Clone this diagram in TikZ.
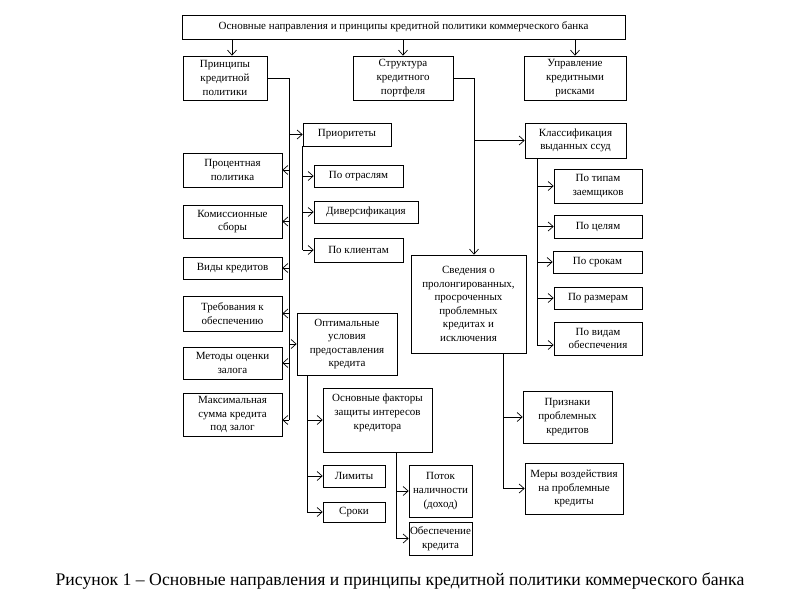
\documentclass[tikz,border=0pt]{standalone}
\usepackage{fontspec}
\setmainfont{Liberation Serif}
\usetikzlibrary{arrows.meta}
\begin{document}
\begin{tikzpicture}[x=1pt,y=-1pt,
  box/.style={draw, line width=0.7pt, align=center, inner sep=1pt, font=\fontsize{11}{13.6}\selectfont},
  ln/.style={line width=0.7pt},
  arr/.style={line width=0.7pt, -{Straight Barb[length=5pt,width=9pt,line width=0.7pt]}}]
\useasboundingbox (0,0) rectangle (800,600);
% boxes
\node[box, minimum width=443pt, minimum height=24pt] (top) at (403.5,27) {Основные направления и принципы кредитной политики коммерческого банка};
\node[box, minimum width=84pt, minimum height=44pt] (p1) at (225,78) {Принципы\\кредитной\\политики};
\node[box, minimum width=100pt, minimum height=44pt] (p2) at (403,78) {Структура\\кредитного\\портфеля};
\node[box, minimum width=102pt, minimum height=44pt] (p3) at (575,78) {Управление\\кредитными\\рисками};
\node[box, minimum width=88pt, minimum height=23pt] (pri) at (347,134.5) {Приоритеты};
\node[box, minimum width=99pt, minimum height=34pt] (proc) at (232.5,170) {Процентная\\политика};
\node[box, minimum width=89pt, minimum height=22pt] (otr) at (358.5,176) {По отраслям};
\node[box, minimum width=99pt, minimum height=33pt] (kom) at (232.5,221.5) {Комиссионные\\сборы};
\node[box, minimum width=104pt, minimum height=22pt] (div) at (366,212) {Диверсификация};
\node[box, minimum width=89pt, minimum height=24pt] (kli) at (358.5,250) {По клиентам};
\node[box, minimum width=99pt, minimum height=22pt] (vid) at (232.5,268) {Виды кредитов};
\node[box, minimum width=99pt, minimum height=35pt] (treb) at (232.5,313.5) {Требования к\\обеспечению};
\node[box, minimum width=99pt, minimum height=32pt] (met) at (232.5,363) {Методы оценки\\залога};
\node[box, minimum width=99pt, minimum height=43pt] (max) at (232.5,414.5) {Максимальная\\сумма кредита\\под залог};
\node[box, minimum width=100pt, minimum height=62pt] (opt) at (347,344) {Оптимальные\\условия\\предоставления\\кредита};
\node[box, minimum width=109pt, minimum height=64pt] (fac) at (377.5,420) {};
\node[align=center, font=\fontsize{11}{13.6}\selectfont, anchor=north, inner sep=0pt] (factxt) at (377.5,394) {Основные факторы\\защиты интересов\\кредитора};
\node[box, minimum width=62pt, minimum height=22pt] (lim) at (354,476) {Лимиты};
\node[box, minimum width=62pt, minimum height=20pt] (sro) at (354,512) {Сроки};
\node[box, minimum width=63pt, minimum height=52pt] (pot) at (440.5,491) {Поток\\наличности\\(доход)};
\node[box, minimum width=63pt, minimum height=33pt] (obs) at (440.5,538.5) {Обеспечение\\кредита};
\node[box, minimum width=101pt, minimum height=35pt] (kl) at (575.5,140.5) {Классификация\\выданных ссуд};
\node[box, minimum width=88pt, minimum height=34pt] (tip) at (598,186) {По типам\\заемщиков};
\node[box, minimum width=88pt, minimum height=23pt] (cel) at (598,226.5) {По целям};
\node[box, minimum width=89pt, minimum height=22pt] (srk) at (597.5,262) {По срокам};
\node[box, minimum width=88pt, minimum height=22pt] (raz) at (598,298) {По размерам};
\node[box, minimum width=88pt, minimum height=33pt] (vob) at (598,338.5) {По видам\\обеспечения};
\node[box, minimum width=115pt, minimum height=98pt] (svd) at (468.5,304) {Сведения о\\пролонгированных,\\просроченных\\проблемных\\кредитах и\\исключения};
\node[box, minimum width=89pt, minimum height=52pt] (pr) at (567.5,417) {Признаки\\проблемных\\кредитов};
\node[box, minimum width=98pt, minimum height=51pt] (mer) at (574,488.5) {Меры воздействия\\на проблемные\\кредиты};
% caption
\node[font=\fontsize{17.7}{20}\selectfont] (cap) at (400,581) {Рисунок 1 – Основные направления и принципы кредитной политики коммерческого банка};
% top arrows
\coordinate (t1) at (232,0);
\coordinate (t2) at (403,0);
\coordinate (t3) at (575,0);
\draw[arr] (top.south -| t1) -- (p1.north -| t1);
\draw[arr] (top.south -| t2) -- (p2.north -| t2);
\draw[arr] (top.south -| t3) -- (p3.north -| t3);
% spine A
\coordinate (a0) at (289,78);
\coordinate (a1) at (289,420);
\draw[ln] (p1.east) -- (a0) -- (a1);
\draw[arr] (a0 |- pri.west) -- (pri.west);
\draw[arr] (a0 |- opt.west) -- (opt.west);
\draw[arr] (a0 |- proc.east) -- (proc.east);
\draw[arr] (a0 |- kom.east) -- (kom.east);
\draw[arr] (a0 |- vid.east) -- (vid.east);
\draw[arr] (a0 |- treb.east) -- (treb.east);
\draw[arr] (a0 |- met.east) -- (met.east);
\draw[arr] (a1) -- (a1 -| max.east);
% spine B
\coordinate (b0) at (pri.south west);
\draw[ln] (b0) -- (b0 |- kli.west);
\draw[arr] (b0 |- otr.west) -- (otr.west);
\draw[arr] (b0 |- div.west) -- (div.west);
\draw[arr] (b0 |- kli.west) -- (kli.west);
% spine C
\coordinate (c0) at (474,78);
\draw[ln] (p2.east) -- (c0);
\draw[arr] (c0) -- (c0 |- svd.north);
\draw[arr] (c0 |- kl.west) -- (kl.west);
% spine D
\coordinate (d0) at (537,158);
\coordinate (d1) at (537,345);
\draw[ln] (d0) -- (d1);
\draw[arr] (d0 |- tip.west) -- (tip.west);
\draw[arr] (d0 |- cel.west) -- (cel.west);
\draw[arr] (d0 |- srk.west) -- (srk.west);
\draw[arr] (d0 |- raz.west) -- (raz.west);
\draw[arr] (d1) -- (d1 -| vob.west);
% spine E
\coordinate (e0) at (503,353);
\draw[ln] (e0) -- (e0 |- mer.west);
\draw[arr] (e0 |- pr.west) -- (pr.west);
\draw[arr] (e0 |- mer.west) -- (mer.west);
% spine F
\coordinate (f0) at (307,375);
\draw[ln] (f0) -- (f0 |- sro.west);
\draw[arr] (f0 |- fac.west) -- (fac.west);
\draw[arr] (f0 |- lim.west) -- (lim.west);
\draw[arr] (f0 |- sro.west) -- (sro.west);
% spine G
\coordinate (g0) at (396,452);
\draw[ln] (g0) -- (g0 |- obs.west);
\draw[arr] (g0 |- pot.west) -- (pot.west);
\draw[arr] (g0 |- obs.west) -- (obs.west);
\end{tikzpicture}
\end{document}
